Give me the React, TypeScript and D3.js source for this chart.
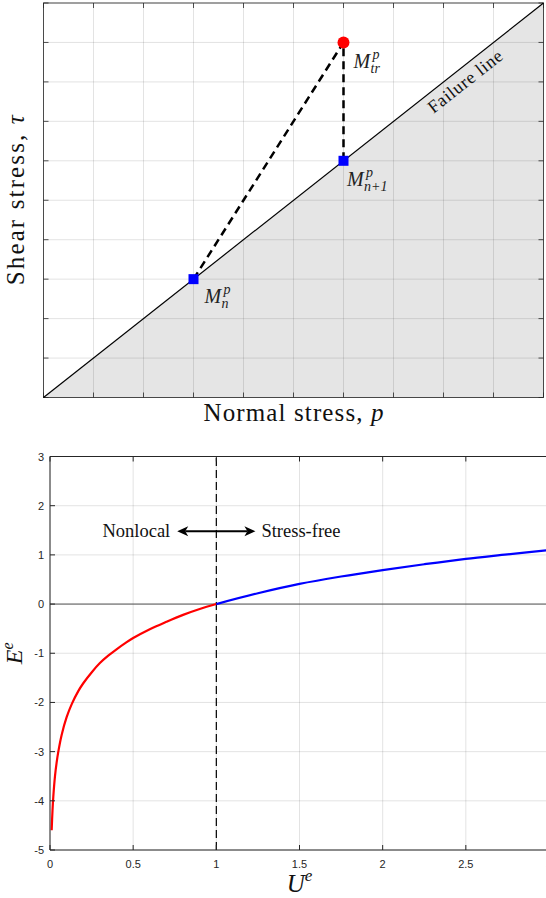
import React from "react";
import * as d3 from "d3";

// top panel: return mapping sketch
const stressTicks = [0, 1, 2, 3, 4, 5, 6, 7, 8, 9, 10];
const failureLine = [
  { p: 0, tau: 0 },
  { p: 10, tau: 10 },
];
const pointN = { p: 3, tau: 3 };
const pointN1 = { p: 6, tau: 6 };
const pointTr = { p: 6, tau: 9 };

// bottom panel: E^e against U^e
const uTicks = [0, 0.5, 1, 1.5, 2, 2.5, 3];
const eTicks = [-5, -4, -3, -2, -1, 0, 1, 2, 3];
const redU = [0.01, 0.015, 0.02, 0.03, 0.04, 0.05, 0.07, 0.1, 0.13, 0.17, 0.2, 0.25, 0.3, 0.35, 0.4, 0.45, 0.5, 0.6, 0.7, 0.8, 0.9, 1.0];
const redE = [-4.6, -4.2, -3.91, -3.5, -3.22, -3.0, -2.66, -2.3, -2.04, -1.77, -1.61, -1.39, -1.2, -1.05, -0.92, -0.8, -0.69, -0.51, -0.36, -0.22, -0.1, 0];
const blueU = [1.0, 1.25, 1.5, 1.75, 2.0, 2.25, 2.5, 2.75, 3.0];
const blueE = [0, 0.22, 0.41, 0.56, 0.69, 0.81, 0.92, 1.01, 1.1];
const splitU = 1;
const arrowSpan = [0.765, 1.235];
const arrowE = 1.48;

const W = 546,
  H = 898;
const serif = "'Liberation Serif', 'Times New Roman', serif";
const sans = "'Liberation Sans', Arial, sans-serif";
const axisCol = "#262626";
const gridCol = "rgba(38,38,38,0.13)";
const tickLen = 5;

function TopPanel() {
  const x = d3.scaleLinear().domain([0, 10]).range([43.5, 543.5]);
  const y = d3.scaleLinear().domain([0, 10]).range([397.5, 3]);
  const [x0, x1] = x.range();
  const [y0, y1] = y.range();

  const area = d3
    .area<{ p: number; tau: number }>()
    .x((d) => x(d.p))
    .y0(y(0))
    .y1((d) => y(d.tau));
  const line = d3
    .line<{ p: number; tau: number }>()
    .x((d) => x(d.p))
    .y((d) => y(d.tau));

  const angle =
    (-Math.atan2(y(0) - y(10), x(10) - x(0)) * 180) / Math.PI;
  const labelP = 8.27;

  return (
    <g>
      <path d={area(failureLine) || ""} fill="#e5e5e5" />
      {stressTicks.map((t) => (
        <g key={"g" + t}>
          <line x1={x(t)} x2={x(t)} y1={y0} y2={y1} stroke={gridCol} />
          <line x1={x0} x2={x1} y1={y(t)} y2={y(t)} stroke={gridCol} />
        </g>
      ))}
      {stressTicks.map((t) => (
        <g key={"t" + t} stroke={axisCol} strokeWidth={0.8}>
          <line x1={x(t)} x2={x(t)} y1={y0} y2={y0 - tickLen} />
          <line x1={x(t)} x2={x(t)} y1={y1} y2={y1 + tickLen} />
          <line x1={x0} x2={x0 + tickLen} y1={y(t)} y2={y(t)} />
          <line x1={x1} x2={x1 - tickLen} y1={y(t)} y2={y(t)} />
        </g>
      ))}
      <rect
        x={x0}
        y={y1}
        width={x1 - x0}
        height={y0 - y1}
        fill="none"
        stroke={axisCol}
        strokeWidth={0.8}
      />
      <path d={line(failureLine) || ""} stroke="#000" strokeWidth={1.2} fill="none" />
      <text
        transform={`translate(${x(labelP)},${y(labelP)}) rotate(${angle})`}
        y={19}
        textAnchor="middle"
        fontFamily={serif}
        fontSize={18}
        textLength={90}
        fill="#111"
      >
        Failure line
      </text>

      <path
        d={line([pointN, pointTr, pointN1]) || ""}
        stroke="#000"
        strokeWidth={2.5}
        strokeDasharray="8,5"
        fill="none"
      />
      <circle cx={x(pointTr.p)} cy={y(pointTr.tau)} r={6} fill="#ff0000" />
      {[pointN, pointN1].map((d, i) => (
        <rect
          key={i}
          x={x(d.p) - 5}
          y={y(d.tau) - 5}
          width={10}
          height={10}
          fill="#0000ff"
        />
      ))}

      <MLabel x={x(pointTr.p) + 10} y={y(pointTr.tau) + 25.5} sub="tr" />
      <MLabel x={x(pointN1.p) + 3.5} y={y(pointN1.tau) + 25} sub="n+1" />
      <MLabel x={x(pointN.p) + 11} y={y(pointN.tau) + 24} sub="n" />

      <text
        x={(x0 + x1) / 2}
        y={421}
        textAnchor="middle"
        fontFamily={serif}
        fontSize={25}
        textLength={180}
        fill="#111"
      >
        Normal stress, <tspan fontStyle="italic">p</tspan>
      </text>
      <text
        transform={`translate(23.5,${(y0 + y1) / 2}) rotate(-90)`}
        textAnchor="middle"
        fontFamily={serif}
        fontSize={25}
        textLength={170}
        fill="#111"
      >
        Shear stress, <tspan fontStyle="italic">τ</tspan>
      </text>
    </g>
  );
}

function MLabel({ x, y, sub }: { x: number; y: number; sub: string }) {
  return (
    <text fontFamily={serif} fontSize={20} fill="#222">
      <tspan x={x} y={y} fontStyle="italic">
        M
      </tspan>
      <tspan x={x + 19} y={y - 9} fontSize={14} fontStyle="italic">
        p
      </tspan>
      <tspan x={x + 17} y={y + 5} fontSize={14} fontStyle="italic">
        {sub}
      </tspan>
    </text>
  );
}

function BottomPanel() {
  const x = d3.scaleLinear().domain([0, 3]).range([50, 549]);
  const y = d3.scaleLinear().domain([-5, 3]).range([850, 456.5]);
  const [x0, x1] = x.range();
  const [y0, y1] = y.range();

  const curve = (us: number[], es: number[]) =>
    d3
      .line<number>()
      .x((u) => x(u))
      .y((_, i) => y(es[i]))
      .curve(d3.curveCatmullRom.alpha(0.5))(us) || "";

  const ay = y(arrowE);
  const ax0 = x(arrowSpan[0]);
  const ax1 = x(arrowSpan[1]);
  const head = (tip: number, dir: number) =>
    `M${tip},${ay} L${tip + dir * 11},${ay - 5} L${tip + dir * 8},${ay} L${tip + dir * 11},${ay + 5} Z`;

  return (
    <g>
      {uTicks.map((t) => (
        <line key={"gx" + t} x1={x(t)} x2={x(t)} y1={y0} y2={y1} stroke={gridCol} />
      ))}
      {eTicks.map((t) => (
        <line key={"gy" + t} x1={x0} x2={x1} y1={y(t)} y2={y(t)} stroke={gridCol} />
      ))}
      <line x1={x0} x2={x1} y1={y(0)} y2={y(0)} stroke="#555" strokeWidth={1} />
      <line
        x1={x(splitU)}
        x2={x(splitU)}
        y1={y0}
        y2={y1}
        stroke="#000"
        strokeWidth={1.2}
        strokeDasharray="8,4"
      />
      <path d={curve(redU, redE)} stroke="#ff0000" strokeWidth={2.2} fill="none" />
      <path d={curve(blueU, blueE)} stroke="#0000ff" strokeWidth={2.2} fill="none" />

      <line x1={ax0 + 8} x2={ax1 - 8} y1={ay} y2={ay} stroke="#000" strokeWidth={2} />
      <path d={head(ax0, 1)} fill="#000" />
      <path d={head(ax1, -1)} fill="#000" />
      <text
        x={ax0 - 7}
        y={ay + 6}
        textAnchor="end"
        fontFamily={serif}
        fontSize={18.5}
        fill="#111"
      >
        Nonlocal
      </text>
      <text x={ax1 + 6} y={ay + 6} fontFamily={serif} fontSize={18.5} fill="#111">
        Stress-free
      </text>

      {uTicks.map((t) => (
        <g key={"tx" + t}>
          <line x1={x(t)} x2={x(t)} y1={y0} y2={y0 - tickLen} stroke={axisCol} />
          <line x1={x(t)} x2={x(t)} y1={y1} y2={y1 + tickLen} stroke={axisCol} />
          <text
            x={x(t)}
            y={y0 + 18}
            textAnchor="middle"
            fontFamily={sans}
            fontSize={11}
            fill={axisCol}
          >
            {t}
          </text>
        </g>
      ))}
      {eTicks.map((t) => (
        <g key={"ty" + t}>
          <line x1={x0} x2={x0 + tickLen} y1={y(t)} y2={y(t)} stroke={axisCol} />
          <text
            x={x0 - 6}
            y={y(t) + 4}
            textAnchor="end"
            fontFamily={sans}
            fontSize={11}
            fill={axisCol}
          >
            {t}
          </text>
        </g>
      ))}
      <line x1={x0} x2={x1} y1={y0} y2={y0} stroke={axisCol} />
      <line x1={x0} x2={x1} y1={y1} y2={y1} stroke={axisCol} />
      <line x1={x0} x2={x0} y1={y0} y2={y1} stroke={axisCol} />

      <text
        x={(x0 + x1) / 2}
        y={892}
        textAnchor="middle"
        fontFamily={serif}
        fontSize={25}
        fill="#111"
      >
        <tspan fontStyle="italic">U</tspan>
        <tspan dy={-11} fontSize={17} fontStyle="italic">
          e
        </tspan>
      </text>
      <text
        transform={`translate(22,${(y0 + y1) / 2}) rotate(-90)`}
        textAnchor="middle"
        fontFamily={serif}
        fontSize={24}
        fill="#111"
      >
        <tspan fontStyle="italic">E</tspan>
        <tspan dy={-9} fontSize={16} fontStyle="italic">
          e
        </tspan>
      </text>
    </g>
  );
}

export default function App() {
  return (
    <svg
      width={W}
      height={H}
      style={{ position: "absolute", left: 0, top: 0, background: "#fff" }}
    >
      <TopPanel />
      <BottomPanel />
    </svg>
  );
}
